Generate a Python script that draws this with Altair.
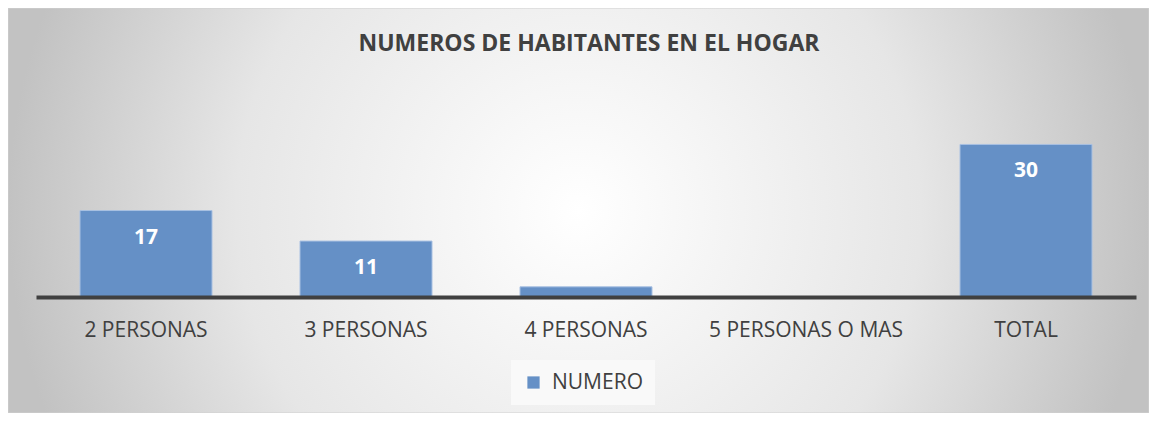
import altair as alt
import pandas as pd

# ---- data ----
categories = ["2 PERSONAS", "3 PERSONAS", "4 PERSONAS", "5 PERSONAS  O MAS", "TOTAL"]
values = [17, 11, 2, 0, 30]
series_name = "NUMERO"
title_text = "NUMEROS DE HABITANTES EN EL HOGAR"

df = pd.DataFrame({"cat": categories, "val": values, "serie": [series_name] * len(categories)})
df_title = pd.DataFrame({"t": [title_text]})
df_bg = pd.DataFrame({"a": [0]})

W, H = 1100, 178
PAD = {"left": 28, "top": 111, "right": 13, "bottom": 116}
FONT = "Open Sans"

grad = alt.RadialGradient(
    gradient="radial",
    x1=0.5, y1=0.5, x2=0.5, y2=0.5, r1=0, r2=0.5,
    stops=[
        alt.GradientStop(offset=0, color="#ffffff"),
        alt.GradientStop(offset=0.6, color="#e6e6e6"),
        alt.GradientStop(offset=1, color="#c2c2c2"),
    ],
)

bg = alt.Chart(df_bg).mark_rect(color=grad, stroke="#d0d0d0", strokeWidth=1).encode(
    x=alt.value(-PAD["left"]),
    x2=alt.value(W + PAD["right"]),
    y=alt.value(-PAD["top"]),
    y2=alt.value(H + PAD["bottom"]),
)

xaxis = alt.Axis(
    title=None, labelAngle=0, ticks=False, labelFontSize=21, labelFont=FONT,
    labelColor="#404040", labelPadding=22, domainColor="#404040", labelLimit=400,
    domainWidth=4, grid=False, labelBaseline="top", zindex=1,
)
xenc = alt.X(
    "cat:N",
    sort=categories,
    scale=alt.Scale(paddingInner=0.4, paddingOuter=0.2),
    axis=xaxis,
)
yenc = alt.Y("val:Q", scale=alt.Scale(domain=[0, 35]), axis=None)

bars = alt.Chart(df).mark_bar(stroke="#a8c0e2", strokeWidth=1).encode(
    x=xenc,
    y=yenc,
    strokeOpacity=alt.condition("datum.val > 0", alt.value(1), alt.value(0)),
    color=alt.Color(
        "serie:N",
        scale=alt.Scale(range=["#6590c6"]),
        legend=alt.Legend(
            title=None, orient="none", legendX=475, legendY=241,
            fillColor="#f9f9f9", padding=12, symbolType="square", symbolSize=150,
            symbolStrokeWidth=0, labelFontSize=21, labelFont=FONT, labelColor="#404040",
            labelOffset=8,
        ),
    ),
)

labels = alt.Chart(df).transform_filter("datum.val >= 5").mark_text(
    color="white", fontWeight="bold", fontSize=21, font=FONT, baseline="middle", dy=27
).encode(x=xenc, y=yenc, text="val:Q")

title = alt.Chart(df_title).mark_text(
    fontSize=23, fontWeight="bold", font=FONT, color="#404040", baseline="alphabetic", align="center"
).encode(x=alt.value(553), y=alt.value(-68), text="t:N")

chart = alt.layer(bg, bars, labels, title).properties(
    width=W, height=H, padding=PAD, autosize=alt.AutoSizeParams(type="none")
).configure_view(strokeWidth=0)

chart.save("out.html", embed_options={"renderer": "svg", "actions": False})
